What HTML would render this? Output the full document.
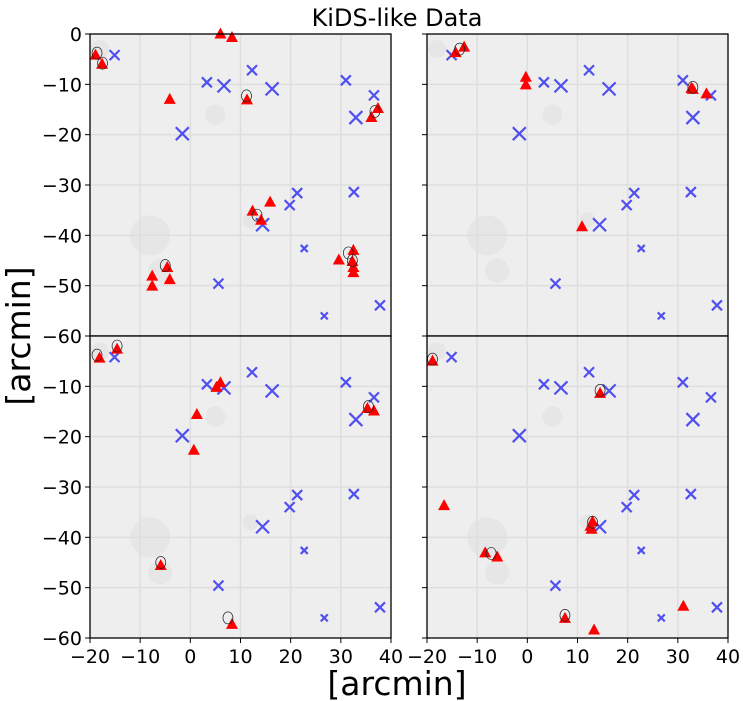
<!DOCTYPE html>
<html><head><meta charset="utf-8"><style>
body{margin:0;background:#fff;}
svg{display:block;font-family:"DejaVu Sans","Liberation Sans",sans-serif;}
</style></head><body>
<svg id="chart" width="743" height="701" viewBox="0 0 743 701" xmlns="http://www.w3.org/2000/svg">
<text x="397" y="26" font-size="24" text-anchor="middle">KiDS-like Data</text>
<text x="397" y="695" font-size="33" text-anchor="middle">[arcmin]</text>
<text transform="translate(30,336) rotate(-90)" font-size="33" text-anchor="middle">[arcmin]</text>
<g id="panels"></g>
</svg>
<script>
const xTicks=[-20,-10,0,10,20,30,40];
const yTicksTop=[0,-10,-20,-30,-40,-50,-60];
const yTicksBottom=[-10,-20,-30,-40,-50,-60];
// blue crosses (same in every panel): x, y, size class (1 small,2 medium,3 large)
const crossX=[-15.1,3.3,6.7,12.3,16.3,31,36.6,33,-1.6,21.3,19.8,32.6,14.4,22.7,5.6,26.7,37.8];
const crossY=[-4.2,-9.6,-10.3,-7.2,-10.9,-9.2,-12.2,-16.6,-19.8,-31.6,-34,-31.4,-37.9,-42.6,-49.6,-56,-53.9];
const crossS=[2,2,3,2,3,2,2,3,3,2,2,2,3,1,2,1,2];
// red triangles per panel
const triTLx=[-18.9,-17.6,6,8.3,-4.1,11.3,36.1,37.4,15.9,12.4,14.1,-4.6,-7.6,-7.6,-4.1,29.6,32.5,32.5,32.5,32.3];
const triTLy=[-4.2,-6,0,-0.7,-13,-13.1,-16.6,-14.8,-33.4,-35.2,-37,-46.4,-48.1,-50.1,-48.8,-44.9,-43,-46.4,-47.4,-45.2];
const triTRx=[-14.3,-12.6,-0.3,-0.3,32.7,33,35.7,10.9];
const triTRy=[-3.7,-2.6,-8.6,-10.1,-10.8,-11,-11.9,-38.3];
const triBLx=[-18.1,-14.6,6,5.2,1.3,0.7,-5.9,8.3,35.3,36.6];
const triBLy=[-4.4,-2.6,-9.3,-10.2,-15.6,-22.7,-45.6,-57.3,-14.4,-14.9];
const triBRx=[-18.9,-16.6,-8.4,-6,14.5,12.8,13,12.6,7.5,13.3,31.1];
const triBRy=[-5,-33.7,-43.1,-43.9,-11.4,-38.4,-36.9,-37.8,-56.1,-58.4,-53.7];
// contour blobs per panel: x, y
const contTLx=[-18.6,-17.5,11.2,36.8,13.3,-5,32.3,31.5];
const contTLy=[-3.8,-5.8,-12.3,-15.4,-36,-46,-45,-43.5];
const contTRx=[-13.5,33];
const contTRy=[-3,-10.6];
const contBLx=[-14.6,-18.6,35.5,-5.9,7.5];
const contBLy=[-2,-3.8,-14,-45,-56];
const contBRx=[-18.9,14.5,13,-7.2,7.5];
const contBRy=[-4.6,-10.8,-37,-43.2,-55.5];

const NS='http://www.w3.org/2000/svg';
const root=document.getElementById('panels');
const W=301,H=302;
function mk(tag,attrs,parent){const e=document.createElementNS(NS,tag);for(const k in attrs)e.setAttribute(k,attrs[k]);parent.appendChild(e);return e;}
const panels=[
 {x0:90,y0:34,tx:triTLx,ty:triTLy,cx:contTLx,cy:contTLy,name:'panel-top-left',yl:yTicksTop,xl:false},
 {x0:427,y0:34,tx:triTRx,ty:triTRy,cx:contTRx,cy:contTRy,name:'panel-top-right',yl:null,xl:false},
 {x0:90,y0:336,tx:triBLx,ty:triBLy,cx:contBLx,cy:contBLy,name:'panel-bottom-left',yl:yTicksBottom,xl:true},
 {x0:427,y0:336,tx:triBRx,ty:triBRy,cx:contBRx,cy:contBRy,name:'panel-bottom-right',yl:null,xl:true}
];
panels.forEach(p=>{
 const sx=v=>p.x0+(v+20)/60*W;
 const sy=v=>p.y0+(-v)/60*H;
 const g=mk('g',{},root);
 
 
 const bg=mk('rect',{x:p.x0,y:p.y0,width:W,height:H,fill:'#eeeeee'},g);
 
 
 [[-8,-40,20],[-6,-47,12],[12,-37,8],[-18,-3,9],[5,-16,10]].forEach(b=>{
  mk('circle',{cx:sx(b[0]),cy:sy(b[1]),r:b[2],fill:'#e2e2e2',opacity:0.7},g);
 });
 xTicks.slice(1,-1).forEach(t=>{const l=mk('line',{x1:sx(t),x2:sx(t),y1:p.y0,y2:p.y0+H,stroke:'#dedede','stroke-width':1.5},g);
  
  });
 [-10,-20,-30,-40,-50].forEach(t=>{const l=mk('line',{x1:p.x0,x2:p.x0+W,y1:sy(t),y2:sy(t),stroke:'#dedede','stroke-width':1.5},g);
  
  });
 crossX.forEach((v,i)=>{
  const s=[0,3.5,5,6.5][crossS[i]];const X=sx(v),Y=sy(crossY[i]);
  const c=mk('path',{d:`M${X-s},${Y-s}L${X+s},${Y+s}M${X-s},${Y+s}L${X+s},${Y-s}`,stroke:'#3434f0','stroke-width':2.2,opacity:0.85,fill:'none'},g);
  
  
 });
 p.tx.forEach((v,i)=>{
  const X=sx(v),Y=sy(p.ty[i]);
  const t=mk('path',{d:`M${X},${Y-6.5}L${X+6},${Y+4.5}L${X-6},${Y+4.5}Z`,fill:'#ff0000'},g);
  
  
 });
 p.cx.forEach((v,i)=>{
  const X=sx(v),Y=sy(p.cy[i]);
  const e=mk('ellipse',{cx:X,cy:Y,rx:5,ry:6,fill:'none',stroke:'#222','stroke-width':0.7},g);
  
  
 });
 const fr=mk('rect',{x:p.x0,y:p.y0,width:W,height:H,fill:'none',stroke:'#000','stroke-width':1.3},g);
 
 
 if(p.yl){p.yl.forEach(t=>{
  mk('line',{x1:p.x0-5,x2:p.x0,y1:sy(t),y2:sy(t),stroke:'#000','stroke-width':1},g);
  const tx=mk('text',{x:p.x0-8,y:sy(t)+7,'font-size':19,'text-anchor':'end'},g);
  tx.textContent=t<0?'\u2212'+(-t):String(t);
  
  
 });}else{[0,-10,-20,-30,-40,-50,-60].forEach(t=>mk('line',{x1:p.x0-5,x2:p.x0,y1:sy(t),y2:sy(t),stroke:'#000','stroke-width':1},g));}
 if(p.xl){xTicks.forEach(t=>{
  mk('line',{x1:sx(t),x2:sx(t),y1:p.y0+H,y2:p.y0+H+5,stroke:'#000','stroke-width':1},g);
  const tx=mk('text',{x:sx(t),y:p.y0+H+25,'font-size':19,'text-anchor':'middle'},g);
  tx.textContent=t<0?'\u2212'+(-t):String(t);
  
  
 });}
});
</script>
</body></html>
